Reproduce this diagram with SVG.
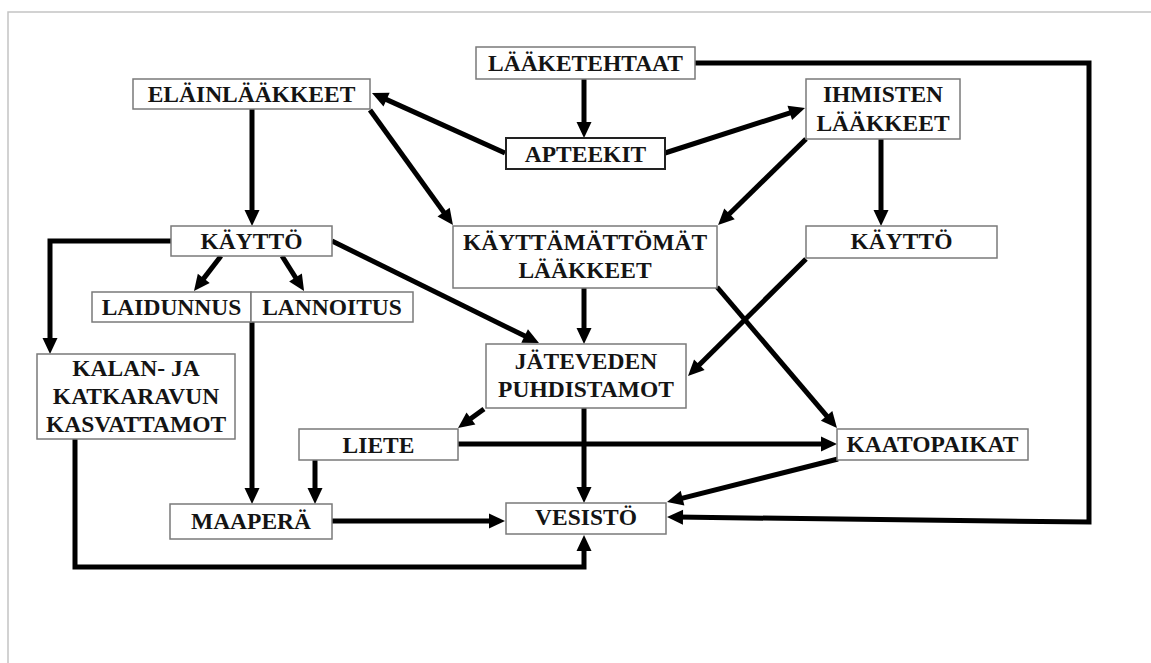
<svg xmlns="http://www.w3.org/2000/svg" width="1151" height="663" viewBox="0 0 1151 663">
<style>
.box{fill:#fff;stroke:#7a7a7a;stroke-width:1.5}
.boxd{fill:#fff;stroke:#222;stroke-width:2}
.t{font-family:"Liberation Serif","Times New Roman",serif;font-weight:bold;font-size:23.5px;fill:#141414;text-anchor:middle}
.c{fill:none;stroke:#000;stroke-width:5;stroke-linejoin:miter}
.a{marker-end:url(#ah)}
.frame{stroke:#c4c4c4;stroke-width:1.5;fill:none}
</style>
<defs>
<marker id="ah" markerUnits="userSpaceOnUse" markerWidth="16" markerHeight="15" refX="6" refY="7.5" orient="auto" overflow="visible">
<path d="M0,0 L16,7.5 L0,15 z" fill="#000"/>
</marker>
</defs>
<rect width="1151" height="663" fill="#fff"/>
<path class="frame" d="M1151,12 H8 V663"/>
<g id="connectors">
<path class="c a" d="M584,79 V128"/>
<path class="c a" d="M505,153 L381.1,97.1"/>
<path class="c a" d="M665,153 L795.5,111.1"/>
<path class="c a" d="M370,110 L447.1,216.9"/>
<path class="c a" d="M806,139 L725.2,218"/>
<path class="c a" d="M252,109 V216"/>
<path class="c a" d="M881,139 V216"/>
<path class="c a" d="M221,256 L200.1,283.1"/>
<path class="c a" d="M282,256 L298.7,282.5"/>
<path class="c a" d="M171,241 H50 V344"/>
<path class="c a" d="M332,241 L530,338.6"/>
<path class="c a" d="M252,322 V494"/>
<path class="c a" d="M584,288 V334"/>
<path class="c a" d="M717,287 L830.5,420.4"/>
<path class="c a" d="M806,259 L695.1,369"/>
<path class="c a" d="M484,409 L466.1,422.1"/>
<path class="c a" d="M458,444 H827"/>
<path class="c a" d="M584,408 V493"/>
<path class="c a" d="M315,460 V494"/>
<path class="c a" d="M332,521 H495"/>
<path class="c a" d="M75,439 V567 H584 V545"/>
<path class="c a" d="M838,459 L676.7,499.6"/>
<path class="c a" d="M695,63 H1089 V522 L677,517.1"/>
</g>
<g id="elainlaakkeet"><rect class="box" x="133" y="79" width="237" height="30"/><text class="t" x="251.5" y="102">ELÄINLÄÄKKEET</text></g>
<g id="laaketehtaat"><rect class="box" x="476" y="47" width="219" height="32"/><text class="t" x="585.5" y="71">LÄÄKETEHTAAT</text></g>
<g id="apteekit"><rect class="boxd" x="506" y="138" width="159" height="31"/><text class="t" x="585.5" y="162">APTEEKIT</text></g>
<g id="ihmisten"><rect class="box" x="806" y="79" width="154" height="60"/><text class="t" x="883" y="102">IHMISTEN</text><text class="t" x="883" y="131">LÄÄKKEET</text></g>
<g id="kaytto-oikea"><rect class="box" x="806" y="226" width="191" height="32"/><text class="t" x="901.5" y="249">KÄYTTÖ</text></g>
<g id="kaytto-vasen"><rect class="box" x="171" y="226" width="161" height="30"/><text class="t" x="251.5" y="249">KÄYTTÖ</text></g>
<g id="laidunnus"><rect class="box" x="92" y="292" width="159" height="30"/><text class="t" x="171.5" y="315">LAIDUNNUS</text></g>
<g id="lannoitus"><rect class="box" x="251" y="292" width="162" height="30"/><text class="t" x="332" y="315">LANNOITUS</text></g>
<g id="kasvattamot"><rect class="box" x="37" y="354" width="198" height="85"/><text class="t" x="136" y="376">KALAN- JA</text><text class="t" x="136" y="404">KATKARAVUN</text><text class="t" x="136" y="432">KASVATTAMOT</text></g>
<g id="kayttamattomat"><rect class="box" x="453" y="226" width="264" height="62"/><text class="t" x="585" y="250">KÄYTTÄMÄTTÖMÄT</text><text class="t" x="585" y="278">LÄÄKKEET</text></g>
<g id="puhdistamot"><rect class="box" x="486" y="344" width="200" height="64"/><text class="t" x="586" y="369">JÄTEVEDEN</text><text class="t" x="586" y="397">PUHDISTAMOT</text></g>
<g id="liete"><rect class="box" x="299" y="429" width="159" height="31"/><text class="t" x="378.5" y="453">LIETE</text></g>
<g id="maapera"><rect class="box" x="170" y="504" width="162" height="35"/><text class="t" x="251" y="529">MAAPERÄ</text></g>
<g id="vesisto"><rect class="box" x="506" y="503" width="160" height="31"/><text class="t" x="586" y="525">VESISTÖ</text></g>
<g id="kaatopaikat"><rect class="box" x="837" y="429" width="191" height="31"/><text class="t" x="932.5" y="452">KAATOPAIKAT</text></g>
</svg>
